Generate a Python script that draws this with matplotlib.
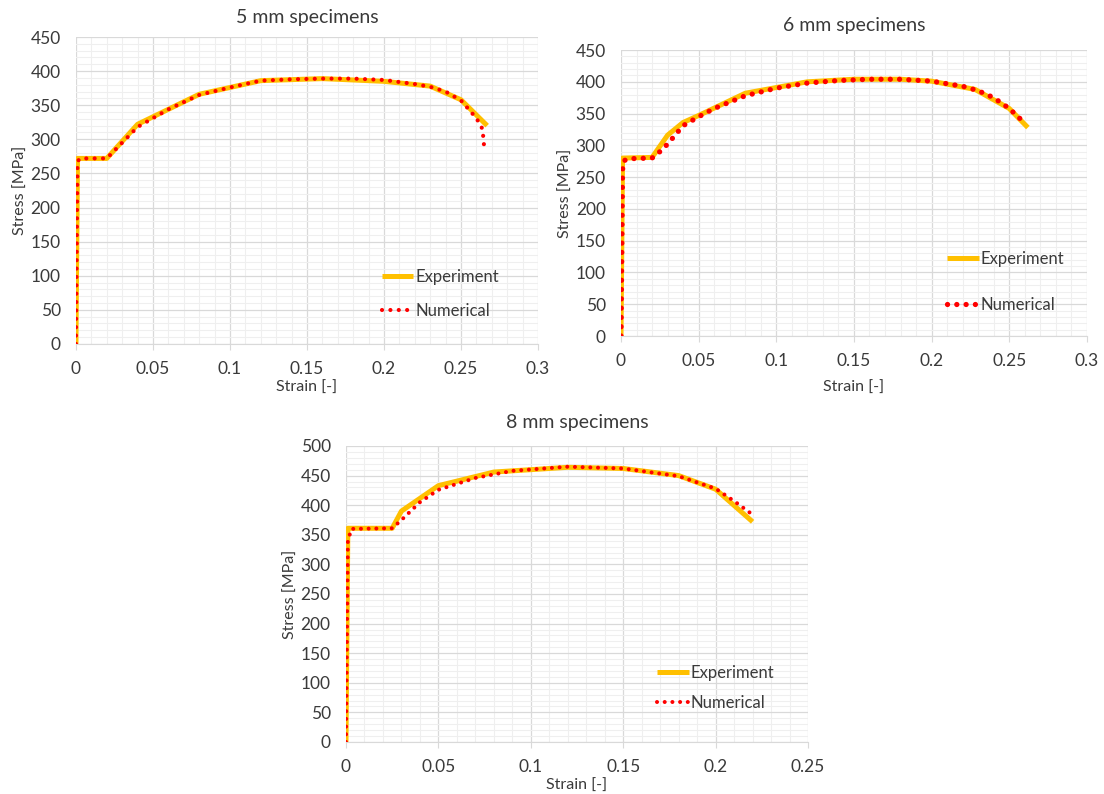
import matplotlib
matplotlib.use("Agg")
import matplotlib.pyplot as plt
from matplotlib.ticker import MultipleLocator, FuncFormatter

plt.rcParams['font.family'] = ['Lato', 'DejaVu Sans']

TEXT = '#3a3a3a'
ORANGE = '#FFC000'
RED = '#FF0000'

# ---- 5 mm ----
exp5_x = [0, 0.001, 0.02, 0.04, 0.08, 0.12, 0.16, 0.2, 0.23, 0.25, 0.267]
exp5_y = [0, 272, 272, 322, 366, 386, 389, 385, 378, 358, 320]
num5_x = [0, 0.001, 0.003, 0.02, 0.03, 0.04, 0.06, 0.08, 0.1, 0.12, 0.14, 0.16,
          0.18, 0.2, 0.22, 0.23, 0.24, 0.25, 0.26, 0.264, 0.265]
num5_y = [0, 268, 272, 272, 295, 318, 344, 365, 376, 386, 388, 389,
          389, 387, 381, 377, 370, 357, 331, 315, 290]

# ---- 6 mm ----
exp6_x = [0, 0.001, 0.02, 0.03, 0.04, 0.05, 0.08, 0.1, 0.12, 0.15, 0.18, 0.2, 0.228, 0.25, 0.262]
exp6_y = [0, 280, 281, 316, 336, 347, 382, 391, 400, 404, 404, 401, 388, 358, 328]
num6_x = [0, 0.001, 0.002, 0.005, 0.02, 0.025, 0.03, 0.04, 0.05, 0.06, 0.08, 0.1, 0.12,
          0.14, 0.16, 0.18, 0.2, 0.22, 0.23, 0.24, 0.25, 0.26]
num6_y = [0, 262, 276, 279, 280, 290, 302, 331, 345, 358, 378, 390, 398,
          402, 404, 404, 401, 393, 386, 375, 358, 335]

# ---- 8 mm ----
exp8_x = [0, 0.001, 0.025, 0.03, 0.05, 0.08, 0.12, 0.15, 0.18, 0.2, 0.22]
exp8_y = [0, 361, 361, 390, 433, 456, 464, 462, 450, 427, 372]
num8_x = [0, 0.001, 0.003, 0.025, 0.03, 0.04, 0.05, 0.07, 0.09, 0.12, 0.15, 0.18,
          0.2, 0.21, 0.22]
num8_y = [0, 340, 360, 361, 375, 405, 426, 446, 458, 465, 462, 449,
          428, 407, 384]

titles = ['5 mm specimens', '6 mm specimens', '8 mm specimens']
xlabel = 'Strain [-]'
ylabel = 'Stress [MPa]'
legend_labels = ['Experiment', 'Numerical']

fig = plt.figure(figsize=(11.04, 7.94), dpi=100)

specs = [
    dict(rect=[0.0688, 0.5668, 0.4185, 0.3866], xmax=0.3, ymax=450,
         ex=exp5_x, ey=exp5_y, nx=num5_x, ny=num5_y, leg=(0.662, 0.163), lsp=1.1,
         nlw=3.0, dash=(0.01, 2.0), tpad=10, xlpad=3),
    dict(rect=[0.5625, 0.5768, 0.4220, 0.3602], xmax=0.3, ymax=450,
         ex=exp6_x, ey=exp6_y, nx=num6_x, ny=num6_y, leg=(0.700, 0.19), lsp=1.8,
         nlw=3.8, dash=(0.01, 1.75), tpad=14, xlpad=9),
    dict(rect=[0.3134, 0.0655, 0.4185, 0.3728], xmax=0.25, ymax=500,
         ex=exp8_x, ey=exp8_y, nx=num8_x, ny=num8_y, leg=(0.674, 0.182), lsp=0.85,
         nlw=2.9, dash=(0.01, 1.9), tpad=13, xlpad=3),
]

def fmt(v, pos):
    s = ('%.2f' % v).rstrip('0').rstrip('.')
    return s

for spec, title in zip(specs, titles):
    ax = fig.add_axes(spec['rect'])
    ax.plot(spec['ex'], spec['ey'], color=ORANGE, lw=3.6, solid_capstyle='butt',
            solid_joinstyle='round', label=legend_labels[0], zorder=3)
    ax.plot(spec['nx'], spec['ny'], color=RED, lw=spec['nlw'],
            linestyle=(0, spec['dash']), dash_capstyle='round', label=legend_labels[1], zorder=4)
    ax.set_xlim(0, spec['xmax'])
    ax.set_ylim(0, spec['ymax'])
    ax.xaxis.set_major_locator(MultipleLocator(0.05))
    ax.xaxis.set_minor_locator(MultipleLocator(0.01))
    ax.yaxis.set_major_locator(MultipleLocator(50))
    ax.yaxis.set_minor_locator(MultipleLocator(10))
    ax.xaxis.set_major_formatter(FuncFormatter(fmt))
    ax.grid(which='major', color='#D9D9D9', lw=0.9, zorder=0)
    ax.grid(which='minor', color='#EFEFEF', lw=0.8, zorder=0)
    ax.set_axisbelow(True)
    for s in ['top', 'right', 'left']:
        ax.spines[s].set_visible(False)
    ax.spines['bottom'].set_color('#D9D9D9')
    ax.tick_params(axis='x', which='major', length=4, color='#D9D9D9', pad=8,
                   labelsize=12.5, labelcolor=TEXT)
    ax.tick_params(axis='y', which='major', length=0, pad=11, labelsize=12.5, labelcolor=TEXT)
    ax.tick_params(which='minor', length=0)
    ax.set_title(title, fontsize=14, color=TEXT, pad=spec['tpad'])
    ax.set_xlabel(xlabel, fontsize=11.5, color=TEXT, labelpad=spec['xlpad'])
    ax.set_ylabel(ylabel, fontsize=11.5, color=TEXT, labelpad=2)
    leg = ax.legend(loc='center left', bbox_to_anchor=spec['leg'], frameon=False,
                    fontsize=12, handlelength=1.9, handletextpad=0.1,
                    labelspacing=spec['lsp'], borderaxespad=0, borderpad=0)
    for t in leg.get_texts():
        t.set_color(TEXT)

fig.savefig('out.png', dpi=100, facecolor='white')
